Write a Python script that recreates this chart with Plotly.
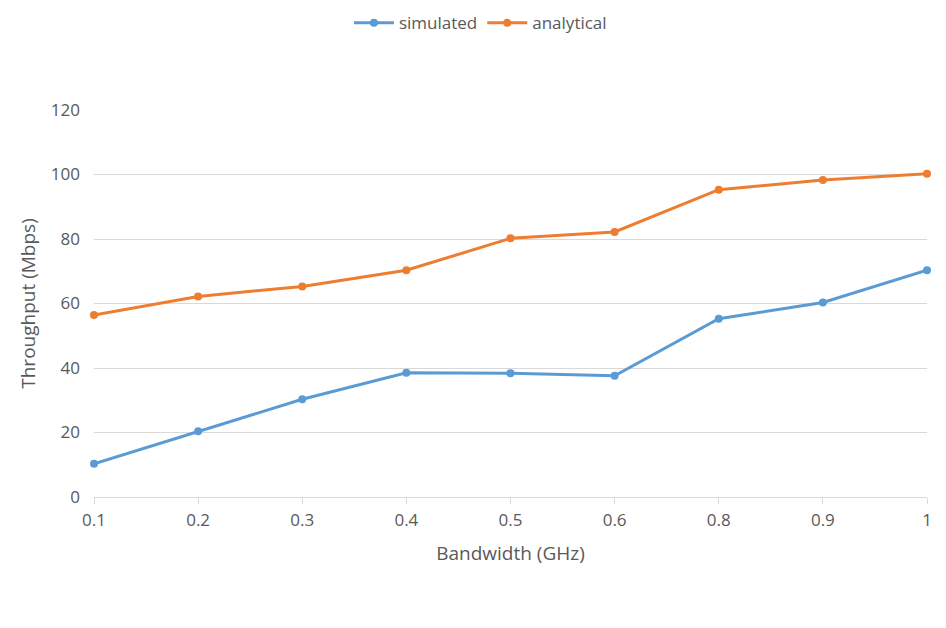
import plotly.graph_objects as go

bandwidth = ["0.1", "0.2", "0.3", "0.4", "0.5", "0.6", "0.8", "0.9", "1"]
simulated = [10.3, 20.4, 30.3, 38.5, 38.4, 37.6, 55.3, 60.3, 70.3]
analytical = [56.4, 62.2, 65.3, 70.3, 80.2, 82.2, 95.3, 98.3, 100.2]

BLUE = "#5B9BD5"
ORANGE = "#ED7D31"
TEXT = "#595959"
GRID = "#D9D9D9"
FONT = "Open Sans"

fig = go.Figure()
fig.add_trace(go.Scatter(x=bandwidth, y=simulated, name="simulated", mode="lines+markers",
                         line=dict(color=BLUE, width=3), marker=dict(size=8, color=BLUE),
                         cliponaxis=False))
fig.add_trace(go.Scatter(x=bandwidth, y=analytical, name="analytical", mode="lines+markers",
                         line=dict(color=ORANGE, width=3), marker=dict(size=8, color=ORANGE),
                         cliponaxis=False))

fig.update_layout(
    width=930, height=612,
    margin=dict(l=86, r=6, t=102, b=123),
    paper_bgcolor="white", plot_bgcolor="white",
    font=dict(family=FONT, size=17, color=TEXT),
    legend=dict(orientation="h", xref="container", yref="container",
                x=0.508, xanchor="center", y=0.975, yanchor="middle",
                font=dict(size=17, color=TEXT), itemwidth=40, tracegroupgap=0),
    showlegend=True,
)
fig.update_xaxes(type="category", range=[0, 8], showgrid=False,
                 showline=True, linecolor=GRID, linewidth=1,
                 ticks="outside", ticklen=6, tickcolor=GRID, tickwidth=1,
                 tickfont=dict(size=17, color=TEXT), ticklabelstandoff=2,
                 title=dict(text="Bandwidth (GHz)", font=dict(size=19, color=TEXT), standoff=16))
fig.update_yaxes(range=[0, 120], dtick=20, showgrid=True, gridcolor=GRID, gridwidth=1,
                 zeroline=False, showline=False, ticks="",
                 tickfont=dict(size=17, color=TEXT), ticklabelstandoff=13,
                 title=dict(text="Throughput (Mbps)", font=dict(size=19, color=TEXT), standoff=10))

fig.write_html("out.html")
